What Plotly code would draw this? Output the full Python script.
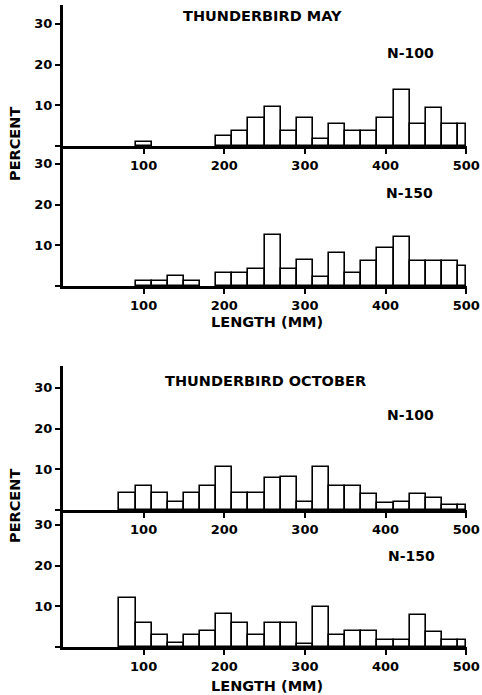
import plotly.graph_objects as go

# ---------------- data (percent of fish per 20 mm length class) ----------------
may_n100_len = [100, 200, 220, 240, 260, 280, 300, 320, 340, 360, 380, 400, 420, 440, 460, 480, 500]
may_n100_pct = [1.0, 2.5, 3.7, 7.0, 9.7, 3.7, 7.0, 1.7, 5.5, 3.7, 3.7, 6.8, 13.8, 5.5, 9.4, 5.3, 5.3]

may_n150_len = [100, 120, 140, 160, 200, 220, 240, 260, 280, 300, 320, 340, 360, 380, 400, 420, 440, 460, 480, 500]
may_n150_pct = [1.3, 1.3, 2.5, 1.3, 3.3, 3.3, 4.1, 12.5, 4.3, 6.4, 2.1, 8.2, 3.1, 6.2, 9.4, 12.1, 6.1, 6.1, 6.1, 4.8]

oct_n100_len = [80, 100, 120, 140, 160, 180, 200, 220, 240, 260, 280, 300, 320, 340, 360, 380, 400, 420, 440, 460, 480, 500]
oct_n100_pct = [4.2, 6.0, 4.2, 1.9, 4.2, 6.0, 10.5, 4.1, 4.1, 7.9, 8.0, 1.9, 10.5, 5.8, 5.8, 3.9, 1.7, 1.9, 3.9, 2.9, 1.3, 1.3]

oct_n150_len = [80, 100, 120, 140, 160, 180, 200, 220, 240, 260, 280, 300, 320, 340, 360, 380, 400, 420, 440, 460, 480, 500]
oct_n150_pct = [12.0, 5.9, 2.9, 1.1, 3.0, 3.9, 8.0, 5.9, 2.9, 5.9, 5.9, 0.8, 9.8, 2.9, 3.9, 3.9, 1.6, 1.6, 7.8, 3.7, 1.6, 1.6]

x_ticks = [100, 200, 300, 400, 500]
y_ticks = [0, 10, 20, 30]
y_ticktext = ["", "10", "20", "30"]

# ---------------- layout helpers ----------------
W, H = 482, 695
X0, X1 = 63, 467
PX_PER_PCT = 4.07
BIN = 20
panels = [  # (top px, bottom px, lengths, pct)
    (5, 146, may_n100_len, may_n100_pct),
    (146, 286, may_n150_len, may_n150_pct),
    (366, 510, oct_n100_len, oct_n100_pct),
    (510, 647, oct_n150_len, oct_n150_pct),
]
FONT = dict(family="DejaVu Sans", size=13, color="black", weight="bold")


def xp(px):
    return px / W


def yp(py):
    return 1 - py / H


fig = go.Figure()
layout = dict(
    width=W, height=H, margin=dict(l=0, r=0, t=0, b=0),
    paper_bgcolor="white", plot_bgcolor="white", showlegend=False,
    font=FONT, bargap=0,
)

for i, (top, bot, lens, pct) in enumerate(panels, start=1):
    widths = [BIN if v < 500 else BIN / 2 for v in lens]
    fig.add_trace(go.Bar(
        x=lens, y=pct, width=widths, offset=[-BIN / 2] * len(lens),
        marker=dict(color="white", line=dict(color="black", width=1.6)),
        xaxis=f"x{i}", yaxis=f"y{i}", hoverinfo="x+y",
    ))
    sfx = "" if i == 1 else str(i)
    layout[f"xaxis{sfx}"] = dict(
        domain=[xp(X0), xp(X1)], range=[0, 501], anchor=f"y{i}",
        showline=True, linewidth=3, linecolor="black", mirror=False,
        ticks="outside", ticklen=5, tickwidth=2, tickcolor="black",
        tickvals=x_ticks, showgrid=False, zeroline=False,
        tickfont=FONT, automargin=False, fixedrange=True,
    )
    layout[f"yaxis{sfx}"] = dict(
        domain=[yp(bot), yp(top)], range=[0, (bot - top) / PX_PER_PCT], anchor=f"x{i}",
        showline=True, linewidth=3, linecolor="black",
        ticks="outside", ticklen=5, tickwidth=2, tickcolor="black",
        tickvals=y_ticks, ticktext=y_ticktext, showgrid=False, zeroline=False,
        tickfont=FONT, automargin=False, fixedrange=True,
    )

fig.update_layout(**layout)

texts = [
    ("THUNDERBIRD MAY", 262, 16, 0, 14.5),
    ("N-100", 410, 53, 0, 14),
    ("N-150", 409, 193, 0, 14),
    ("LENGTH (MM)", 267, 322, 0, 14.5),
    ("THUNDERBIRD OCTOBER", 265, 381, 0, 14.5),
    ("N-100", 410, 415, 0, 14),
    ("N-150", 411, 556, 0, 14),
    ("LENGTH (MM)", 267, 686, 0, 14.5),
    ("PERCENT", 15, 144, -90, 14.5),
    ("PERCENT", 15, 506, -90, 14.5),
]
for t, x, y, ang, sz in texts:
    fig.add_annotation(
        text=t, x=xp(x), y=yp(y), xref="paper", yref="paper",
        showarrow=False, textangle=ang, xanchor="center", yanchor="middle",
        font=dict(family="DejaVu Sans", size=sz, color="black", weight="bold"),
    )

fig.write_html(
    "out.html",
    config={"displayModeBar": False},
    post_script="document.body.style.margin='0';document.body.style.padding='0';"
                "document.body.style.overflow='hidden';",
)
